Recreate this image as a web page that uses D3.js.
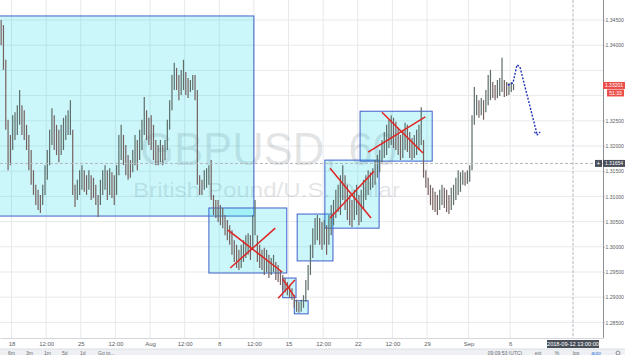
<!DOCTYPE html>
<html>
<head>
<meta charset="utf-8">
<script src="https://cdnjs.cloudflare.com/ajax/libs/d3/7.8.5/d3.min.js"></script>
<style>
  body { margin: 0; background: #fff; }
  svg { display: block; font-family: "Liberation Sans", Arial, sans-serif; }
</style>
</head>
<body>
<div id="chart"></div>
<script>
// GBPUSD 60 — price read off the picture as 4h high/low bars
// time is in trading hours counted from Jul 18 00:00 (weekends dropped)
const barStart = -24;
const barHours = 4;

const highs = [
  1.3446, 1.3450, 1.3440, 1.3371, 1.3252, 1.3222, 1.3261, 1.3267, 1.3281, 1.3311,
  1.3281, 1.3271, 1.3242, 1.3222, 1.3192, 1.3152, 1.3123, 1.3113, 1.3103, 1.3123,
  1.3162, 1.3192, 1.3232, 1.3275, 1.3261, 1.3242, 1.3232, 1.3242, 1.3256, 1.3261,
  1.3271, 1.3291, 1.3232, 1.3123, 1.3133, 1.3152, 1.3162, 1.3152, 1.3142, 1.3152,
  1.3142, 1.3137, 1.3123, 1.3103, 1.3133, 1.3152, 1.3162, 1.3152, 1.3156, 1.3148,
  1.3142, 1.3162, 1.3222, 1.3242, 1.3222, 1.3202, 1.3182, 1.3172, 1.3192, 1.3222,
  1.3212, 1.3232, 1.3252, 1.3297, 1.3271, 1.3256, 1.3261, 1.3242, 1.3212, 1.3202,
  1.3212, 1.3202, 1.3212, 1.3252, 1.3291, 1.3341, 1.3365, 1.3355, 1.3341, 1.3351,
  1.3371, 1.3347, 1.3335, 1.3331, 1.3341, 1.3341, 1.3311, 1.3142, 1.3133, 1.3152,
  1.3156, 1.3162, 1.3172, 1.3103, 1.3093, 1.3093, 1.3083, 1.3077, 1.3063, 1.3053,
  1.3043, 1.3033, 1.3013, 1.3004, 1.2994, 1.3004, 1.3013, 1.3023, 1.3027, 1.3023,
  1.3063, 1.3093, 1.3023, 1.3004, 1.2994, 1.2998, 1.2994, 1.2984, 1.2978, 1.2984,
  1.2970, 1.2964, 1.2954, 1.2944, 1.2938, 1.2930, 1.2924, 1.2918, 1.2904, 1.2895,
  1.2891, 1.2895, 1.2904, 1.2934, 1.2964, 1.3004, 1.3037, 1.3057, 1.3063, 1.3057,
  1.3049, 1.3053, 1.3043, 1.3063, 1.3083, 1.3093, 1.3113, 1.3123, 1.3142, 1.3162,
  1.3142, 1.3123, 1.3103, 1.3093, 1.3113, 1.3123, 1.3103, 1.3113, 1.3133, 1.3142,
  1.3152, 1.3148, 1.3156, 1.3172, 1.3182, 1.3192, 1.3212, 1.3228, 1.3242, 1.3252,
  1.3261, 1.3256, 1.3248, 1.3236, 1.3222, 1.3232, 1.3246, 1.3242, 1.3228, 1.3216,
  1.3222, 1.3232, 1.3242, 1.3277, 1.3212, 1.3152, 1.3137, 1.3123, 1.3117, 1.3109,
  1.3103, 1.3113, 1.3123, 1.3117, 1.3113, 1.3103, 1.3117, 1.3123, 1.3137, 1.3152,
  1.3148, 1.3152, 1.3148, 1.3152, 1.3162, 1.3261, 1.3317, 1.3301, 1.3291, 1.3295,
  1.3291, 1.3311, 1.3341, 1.3351, 1.3327, 1.3321, 1.3331, 1.3335, 1.3375, 1.3331,
  1.3327, 1.3325, 1.3327, 1.3323
];
const lows = [
  1.3410, 1.3400, 1.3351, 1.3232, 1.3152, 1.3162, 1.3192, 1.3212, 1.3222, 1.3242,
  1.3222, 1.3212, 1.3192, 1.3152, 1.3123, 1.3103, 1.3083, 1.3073, 1.3067, 1.3083,
  1.3103, 1.3133, 1.3162, 1.3202, 1.3192, 1.3182, 1.3168, 1.3182, 1.3192, 1.3212,
  1.3222, 1.3222, 1.3103, 1.3079, 1.3093, 1.3103, 1.3113, 1.3109, 1.3103, 1.3113,
  1.3093, 1.3097, 1.3083, 1.3059, 1.3083, 1.3103, 1.3113, 1.3093, 1.3103, 1.3097,
  1.3083, 1.3103, 1.3142, 1.3172, 1.3162, 1.3142, 1.3133, 1.3137, 1.3148, 1.3162,
  1.3152, 1.3172, 1.3192, 1.3222, 1.3212, 1.3202, 1.3192, 1.3172, 1.3162, 1.3162,
  1.3168, 1.3162, 1.3172, 1.3192, 1.3232, 1.3271, 1.3311, 1.3311, 1.3291, 1.3301,
  1.3311, 1.3301, 1.3295, 1.3307, 1.3311, 1.3291, 1.3123, 1.3103, 1.3103, 1.3113,
  1.3117, 1.3123, 1.3093, 1.3063, 1.3057, 1.3049, 1.3043, 1.3037, 1.3023, 1.3013,
  1.3004, 1.2984, 1.2970, 1.2958, 1.2954, 1.2958, 1.2970, 1.2978, 1.2984, 1.2974,
  1.2994, 1.3023, 1.2970, 1.2958, 1.2954, 1.2944, 1.2950, 1.2938, 1.2944, 1.2950,
  1.2934, 1.2930, 1.2924, 1.2914, 1.2910, 1.2904, 1.2899, 1.2895, 1.2879, 1.2871,
  1.2869, 1.2871, 1.2879, 1.2891, 1.2914, 1.2944, 1.2978, 1.3004, 1.3013, 1.3004,
  1.2994, 1.3004, 1.2984, 1.3004, 1.3023, 1.3043, 1.3057, 1.3069, 1.3063, 1.3093,
  1.3073, 1.3053, 1.3043, 1.3039, 1.3053, 1.3063, 1.3043, 1.3049, 1.3073, 1.3093,
  1.3103, 1.3113, 1.3117, 1.3123, 1.3137, 1.3148, 1.3168, 1.3176, 1.3182, 1.3196,
  1.3202, 1.3196, 1.3192, 1.3182, 1.3172, 1.3176, 1.3192, 1.3188, 1.3176, 1.3172,
  1.3176, 1.3182, 1.3192, 1.3202, 1.3137, 1.3117, 1.3103, 1.3083, 1.3073, 1.3069,
  1.3063, 1.3073, 1.3083, 1.3077, 1.3069, 1.3065, 1.3073, 1.3083, 1.3093, 1.3103,
  1.3109, 1.3123, 1.3121, 1.3125, 1.3129, 1.3152, 1.3242, 1.3261, 1.3256, 1.3261,
  1.3252, 1.3267, 1.3281, 1.3291, 1.3295, 1.3291, 1.3295, 1.3299, 1.3307, 1.3297,
  1.3299, 1.3301, 1.3307, 1.3311
];

const priceTicks = [1.285, 1.29, 1.295, 1.30, 1.305, 1.31, 1.315, 1.32, 1.325, 1.33, 1.335, 1.34, 1.345];
const timeTicks = [0, 60, 120, 180, 240, 300, 360, 420, 480, 540, 600, 660, 720, 792, 864];
const timeLabels = ['18', '12:00', '25', '12:00', 'Aug', '12:00', '8', '12:00', '15', '12:00', '22', '12:00', '29', 'Sep', '6'];

// drawings: [startHour, endHour, topPrice, bottomPrice]
const boxes = [
  [-24, 420, 1.3458, 1.3061],
  [342, 477, 1.3077, 1.2948],
  [470, 493, 1.2938, 1.2899],
  [490, 514, 1.2893, 1.2867],
  [495, 557, 1.3065, 1.2972],
  [543, 637, 1.3172, 1.3037],
  [604, 729, 1.3269, 1.3170]
];
// crossed-out boxes: [hour1, price1, hour2, price2]
const crosses = [
  [375, 1.3033, 469, 1.2950], [379, 1.2958, 457, 1.3037],
  [470, 1.2936, 491, 1.2900], [462, 1.2898, 491, 1.2934],
  [552, 1.3156, 623, 1.3057], [552, 1.3057, 628, 1.3150],
  [642, 1.3267, 713, 1.3186], [618, 1.3188, 717, 1.3258]
];
const forecastHours = [860, 869, 876, 881, 911];
const forecastPrices = [1.3321, 1.3325, 1.3361, 1.3357, 1.3222];

const lastPrice = 1.33201;
const crossPrice = 1.31654;
const crossHour = 973;

const W = 625, H = 355;
const plotW = 603, plotH = 338;
const axisFont = '5.1px';

const svg = d3.select('#chart').append('svg')
  .attr('width', W)
  .attr('height', H);

const x = d3.scaleLinear().domain([-20, 1025]).range([0, plotW]);
const y = d3.scaleLinear().domain([1.285, 1.345]).range([322.4, 20]);

svg.append('defs').append('clipPath').attr('id', 'clip')
  .append('rect').attr('width', plotW).attr('height', plotH);

const plot = svg.append('g').attr('clip-path', 'url(#clip)');

// grid
plot.selectAll('.hg').data(priceTicks).enter().append('line')
  .attr('x1', 0).attr('x2', plotW)
  .attr('y1', d => y(d)).attr('y2', d => y(d))
  .attr('stroke', '#e7e9ec');
plot.selectAll('.vg').data(timeTicks).enter().append('line')
  .attr('x1', d => x(d)).attr('x2', d => x(d))
  .attr('y1', 0).attr('y2', plotH)
  .attr('stroke', '#e7e9ec');

// watermark
plot.append('text')
  .attr('x', 140).attr('y', 165)
  .attr('textLength', 257).attr('lengthAdjust', 'spacingAndGlyphs')
  .style('font-size', '46px')
  .style('fill', 'rgba(110,115,125,0.2)')
  .text('GBPUSD, 60');
plot.append('text')
  .attr('x', 133).attr('y', 197)
  .attr('textLength', 267).attr('lengthAdjust', 'spacingAndGlyphs')
  .style('font-size', '21px')
  .style('fill', 'rgba(110,115,125,0.2)')
  .text('British Pound/U.S. Dollar');

// boxes
plot.selectAll('.box').data(boxes).enter().append('rect')
  .attr('x', d => x(d[0]))
  .attr('y', d => y(d[2]))
  .attr('width', d => x(d[1]) - x(d[0]))
  .attr('height', d => y(d[3]) - y(d[2]))
  .attr('fill', 'rgba(0,214,230,0.2)')
  .attr('stroke', '#3f5fcc')
  .attr('stroke-width', 1);

// price bars
const bars = highs.map((h, i) => ({ t: barStart + barHours * i + barHours / 2, h, l: lows[i] }));
plot.selectAll('.bar').data(bars).enter().append('line')
  .attr('x1', d => x(d.t)).attr('x2', d => x(d.t))
  .attr('y1', d => y(d.h)).attr('y2', d => y(d.l))
  .attr('stroke', (d, i) => {
    if (i === 0) return '#5d6e69';
    const prev = bars[i - 1];
    return (d.h + d.l) >= (prev.h + prev.l) ? '#5d6e69' : '#75615f';
  })
  .attr('stroke-width', 1.2);

// red crosses
plot.selectAll('.cross').data(crosses).enter().append('line')
  .attr('x1', d => x(d[0])).attr('y1', d => y(d[1]))
  .attr('x2', d => x(d[2])).attr('y2', d => y(d[3]))
  .attr('stroke', '#e02424')
  .attr('stroke-width', 1.5);

// forecast dashed arrow
const fc = forecastHours.map((h, i) => [x(h), y(forecastPrices[i])]);
plot.append('path')
  .attr('d', d3.line()(fc))
  .attr('fill', 'none')
  .attr('stroke', '#2233bb')
  .attr('stroke-width', 1.4)
  .attr('stroke-dasharray', '2,1.5');
const end = fc[fc.length - 1];
plot.append('path')
  .attr('d', `M${end[0] - 3},${end[1] - 3}L${end[0]},${end[1]}L${end[0] + 3},${end[1] - 3}`)
  .attr('fill', 'none')
  .attr('stroke', '#2233bb')
  .attr('stroke-width', 1.2)
  .attr('stroke-dasharray', '2,1.5');

// crosshair
plot.append('line')
  .attr('x1', x(crossHour)).attr('x2', x(crossHour))
  .attr('y1', 0).attr('y2', plotH)
  .attr('stroke', '#b4b7bd').attr('stroke-dasharray', '3,1.5');
plot.append('line')
  .attr('x1', 0).attr('x2', plotW)
  .attr('y1', y(crossPrice)).attr('y2', y(crossPrice))
  .attr('stroke', '#b4b7bd').attr('stroke-dasharray', '3,2');

// right price axis (the 1.33000 label sits under the last-price tag)
const labelTicks = priceTicks.filter(d => Math.abs(d - lastPrice) > 0.003);
const yAxis = svg.append('g')
  .attr('transform', `translate(${plotW},0)`)
  .call(d3.axisRight(y).tickValues(labelTicks).tickFormat(d3.format('.5f'))
    .tickSize(1.5).tickPadding(1));
yAxis.select('.domain').attr('stroke', '#8c8f96').attr('d', `M0.5,0V${plotH}`);
yAxis.selectAll('.tick line').attr('stroke', '#8c8f96');
yAxis.selectAll('text').style('font-size', axisFont).style('fill', '#5b5e66').style('font-family', 'Liberation Sans, Arial, sans-serif');

// bottom time axis
const xAxis = svg.append('g')
  .attr('transform', `translate(0,${plotH})`)
  .call(d3.axisBottom(x).tickValues(timeTicks).tickFormat((d, i) => timeLabels[i]).tickSize(0).tickPadding(4));
xAxis.select('.domain').attr('stroke', '#d4d6da');
xAxis.selectAll('text').style('font-size', '6px').style('fill', '#5b5e66').style('font-family', 'Liberation Sans, Arial, sans-serif');

// price labels on axis
const tag = (yc, x0, w, fill, label) => {
  svg.append('rect').attr('x', x0).attr('y', yc - 3.5).attr('width', w).attr('height', 7).attr('fill', fill);
  svg.append('text').attr('x', x0 + w / 2).attr('y', yc + 1.8)
    .attr('text-anchor', 'middle').style('font-size', '5px').style('fill', '#fff').text(label);
};
tag(y(lastPrice), 603, 22, '#ec4f4a', d3.format('.5f')(lastPrice));
tag(y(lastPrice) + 7.5, 607, 17, '#ec4f4a', '51:33');
tag(y(crossPrice), 603, 22, '#4a4f5a', d3.format('.5f')(crossPrice));
svg.append('rect').attr('x', 595).attr('y', y(crossPrice) - 3.5).attr('width', 7).attr('height', 7).attr('fill', '#4a4f5a');
svg.append('text').attr('x', 598.5).attr('y', y(crossPrice) + 2.3).attr('text-anchor', 'middle')
  .style('font-size', '6.5px').style('fill', '#fff').text('+');

// crosshair time label
svg.append('rect').attr('x', x(crossHour) - 26).attr('y', plotH + 2).attr('width', 52).attr('height', 8).attr('fill', '#4a4f5a');
svg.append('text').attr('x', x(crossHour)).attr('y', plotH + 7.9).attr('text-anchor', 'middle')
  .style('font-size', '5.6px').style('fill', '#fff').text('2018-09-12 13:00:00');

// bottom toolbar
svg.append('rect').attr('x', 0).attr('y', 349).attr('width', W).attr('height', 6).attr('fill', '#eef0f3');
svg.append('line').attr('x1', 0).attr('x2', W).attr('y1', 349).attr('y2', 349).attr('stroke', '#dcdfe4');
const leftItems = ['6m', '3m', '1m', '5d', '1d', 'Go to...'];
svg.selectAll('.lt').data(leftItems).enter().append('text')
  .attr('x', (d, i) => 8 + i * 18)
  .attr('y', 354.5)
  .style('font-size', '5px').style('fill', '#6b6e76')
  .text(d => d);
const rightItems = ['09:09:53 (UTC)', 'ext', '%', 'log', 'auto'];
const rightX = [505, 538, 557, 576, 596];
svg.selectAll('.rt').data(rightItems).enter().append('text')
  .attr('x', (d, i) => rightX[i])
  .attr('y', 354.5)
  .attr('text-anchor', 'middle')
  .style('font-size', '5px')
  .style('fill', d => d === 'auto' ? '#3d7fd9' : '#6b6e76')
  .text(d => d);
svg.append('circle').attr('cx', 618).attr('cy', 353).attr('r', 2).attr('fill', 'none').attr('stroke', '#8a8d94');
</script>
</body>
</html>
